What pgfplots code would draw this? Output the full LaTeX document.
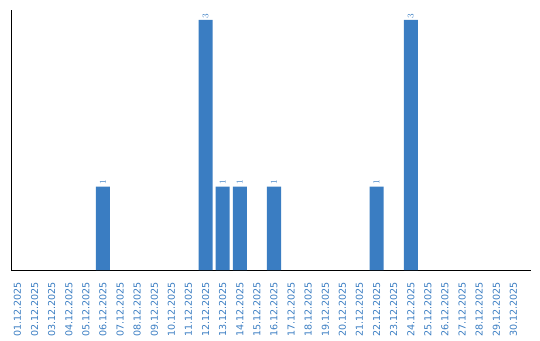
\documentclass[border=0pt]{standalone}
\usepackage{pgfplots}
\pgfplotsset{compat=1.18}
\usepackage{fontspec}
\setmainfont{DejaVu Sans}
\definecolor{barblue}{RGB}{58,125,194}
\begin{document}
\begin{tikzpicture}[x=1bp,y=1bp]
\useasboundingbox (0,0) rectangle (540,340);
\begin{axis}[
  at={(11bp,70bp)}, anchor=south west,
  scale only axis, width=520bp, height=260bp,
  xmin=-0.38, xmax=30.03, ymin=0, ymax=3.12,
  axis x line*=bottom, axis y line*=left,
  axis line style={black, line width=0.9pt, -},
  ytick=\empty,
  xtick={0,...,29},
  xticklabels={01.12.2025,02.12.2025,03.12.2025,04.12.2025,05.12.2025,06.12.2025,07.12.2025,08.12.2025,09.12.2025,10.12.2025,11.12.2025,12.12.2025,13.12.2025,14.12.2025,15.12.2025,16.12.2025,17.12.2025,18.12.2025,19.12.2025,20.12.2025,21.12.2025,22.12.2025,23.12.2025,24.12.2025,25.12.2025,26.12.2025,27.12.2025,28.12.2025,29.12.2025,30.12.2025},
  major tick length=0pt,
  xticklabel style={rotate=90, anchor=east, font=\fontsize{9.6}{11}\selectfont, text=barblue, xshift=-12bp, inner sep=0pt},
  ybar, bar width=14bp,
  nodes near coords,
  every node near coord/.append style={rotate=90, anchor=west, font=\fontsize{9}{10}\selectfont, text=barblue, inner sep=1.5bp},
  clip=false,
]
\addplot[fill=barblue, draw=none] coordinates {
 (5,1) (11,3) (12,1) (13,1) (15,1) (21,1) (23,3)
};
\end{axis}
\end{tikzpicture}
\end{document}
